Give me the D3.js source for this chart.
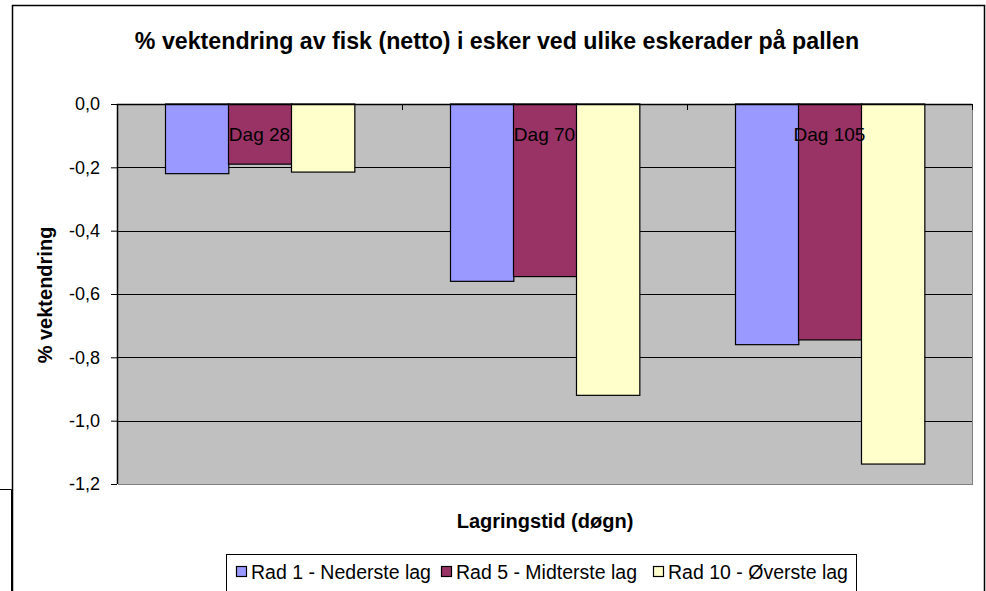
<!DOCTYPE html>
<html>
<head>
<meta charset="utf-8">
<script src="https://cdn.jsdelivr.net/npm/d3@7"></script>
<style>
  body { margin: 0; background: #fff; }
  svg { display: block; font-family: Arial, 'Liberation Sans', sans-serif; }
</style>
</head>
<body>
<div class="canvas"></div>
<script>
const categories = ['Dag 28', 'Dag 70', 'Dag 105']
const seriesNames = ['Rad 1 - Nederste lag', 'Rad 5 - Midterste lag', 'Rad 10 - Øverste lag']
const rad1 = [-0.22, -0.56, -0.76]
const rad5 = [-0.19, -0.545, -0.745]
const rad10 = [-0.215, -0.92, -1.137]
const yTicks = [0, -0.2, -0.4, -0.6, -0.8, -1.0, -1.2]
const colors = ['#9999FF', '#993366', '#FFFFCC']

const seriesValues = [rad1, rad5, rad10]

const svg = d3.select('.canvas').append('svg').attr('width', 986).attr('height', 591)

// outer chart frame + edge of a box behind it
svg.append('rect').attr('x', 12.5).attr('y', 5.5).attr('width', 972).attr('height', 600)
    .attr('fill', '#fff').attr('stroke', '#000').attr('stroke-width', 1.5)
svg.append('path').attr('d', 'M0,489.5 H11.5 V591').attr('fill', 'none').attr('stroke', '#000')

const margins = { top: 104, left: 117, right: 14, bottom: 107 }
const gWidth = 986 - margins.left - margins.right
const gHeight = 591 - margins.top - margins.bottom

const graph = svg.append('g').attr('transform', `translate(${margins.left}, ${margins.top})`)

const x = d3.scaleBand()
    .domain(categories)
    .range([0, gWidth])
    .paddingInner(1 / 3)
    .paddingOuter(1 / 6)

const xSub = d3.scaleBand()
    .domain(d3.range(seriesNames.length))
    .range([0, x.bandwidth()])

const y = d3.scaleLinear()
    .domain([-1.2, 0])
    .range([gHeight, 0])

// plot area
graph.append('rect').attr('x', 1).attr('y', 1).attr('width', gWidth).attr('height', gHeight).attr('fill', '#808080')
graph.append('rect').attr('width', gWidth).attr('height', gHeight).attr('fill', '#C0C0C0')

// gridlines
graph.append('g')
    .selectAll('line')
    .data(yTicks.slice(1, -1))
    .enter()
    .append('line')
    .attr('x1', 0).attr('x2', gWidth)
    .attr('y1', d => Math.round(y(d)) + 0.5).attr('y2', d => Math.round(y(d)) + 0.5)
    .attr('stroke', '#000')

// bars
const rows = []
categories.forEach((c, i) => {
    seriesValues.forEach((vals, s) => rows.push({ cat: c, s: s, value: vals[i] }))
})

graph.append('g')
    .selectAll('rect')
    .data(rows)
    .enter()
    .append('rect')
    .attr('x', d => Math.round(x(d.cat) + xSub(d.s)) + 0.5)
    .attr('y', y(0))
    .attr('width', xSub.bandwidth())
    .attr('height', d => y(d.value) - y(0))
    .attr('fill', d => colors[d.s])
    .attr('stroke', '#000')
    .attr('stroke-width', 1.2)

// plot border top/left
graph.append('path').attr('d', `M0.5,${gHeight} V0.5 H${gWidth}`).attr('fill', 'none').attr('stroke', '#000').attr('stroke-width', 1.5)

// category axis at the top (value 0), ticks pointing into the plot
const xAxisGroup = graph.append('g')
xAxisGroup.selectAll('line')
    .data(d3.range(categories.length + 1))
    .enter()
    .append('line')
    .attr('x1', d => Math.round(d * x.step()) + 0.5)
    .attr('x2', d => Math.round(d * x.step()) + 0.5)
    .attr('y1', 0).attr('y2', 6)
    .attr('stroke', '#000')

// category labels
graph.append('g')
    .selectAll('text')
    .data(categories)
    .enter()
    .append('text')
    .attr('x', d => x(d) + x.bandwidth() / 2)
    .attr('y', 37)
    .attr('text-anchor', 'middle')
    .attr('font-size', 19)
    .attr('fill', '#000')
    .text(d => d)

// y axis
const yAxis = d3.axisLeft(y)
    .tickValues(yTicks)
    .tickSize(6)
    .tickFormat(d => d3.format('.1f')(d).replace('.', ',').replace('−', '-'))

const yAxisGroup = graph.append('g').call(yAxis)
yAxisGroup.select('.domain').remove()
yAxisGroup.selectAll('line').attr('stroke', '#000')
yAxisGroup.selectAll('text')
    .attr('font-size', 18)
    .attr('font-family', 'Arial, Liberation Sans, sans-serif')
    .attr('fill', '#000')
    .attr('x', -17)

// title and axis titles
svg.append('text')
    .attr('x', 497).attr('y', 49)
    .attr('text-anchor', 'middle')
    .attr('font-size', 23.2).attr('font-weight', 'bold')
    .text('% vektendring av fisk (netto) i esker ved ulike eskerader på pallen')

svg.append('text')
    .attr('x', 545).attr('y', 528)
    .attr('text-anchor', 'middle')
    .attr('font-size', 20).attr('font-weight', 'bold')
    .text('Lagringstid (døgn)')

svg.append('text')
    .attr('transform', 'translate(52, 295) rotate(-90)')
    .attr('text-anchor', 'middle')
    .attr('font-size', 20).attr('font-weight', 'bold')
    .text('% vektendring')

// legend
const legend = svg.append('g')
legend.append('rect').attr('x', 226.5).attr('y', 554.5).attr('width', 630).attr('height', 40)
    .attr('fill', '#fff').attr('stroke', '#000')

const legendX = [236, 441, 653]
const items = legend.selectAll('g.item')
    .data(seriesNames)
    .enter()
    .append('g')
    .attr('transform', (d, i) => `translate(${legendX[i]}, 0)`)

items.append('rect')
    .attr('x', 0.5).attr('y', 566.5).attr('width', 10).attr('height', 10)
    .attr('fill', (d, i) => colors[i]).attr('stroke', '#000').attr('stroke-width', 1.2)

items.append('text')
    .attr('x', 15).attr('y', 579)
    .attr('font-size', 19.5)
    .text(d => d)
</script>
</body>
</html>
